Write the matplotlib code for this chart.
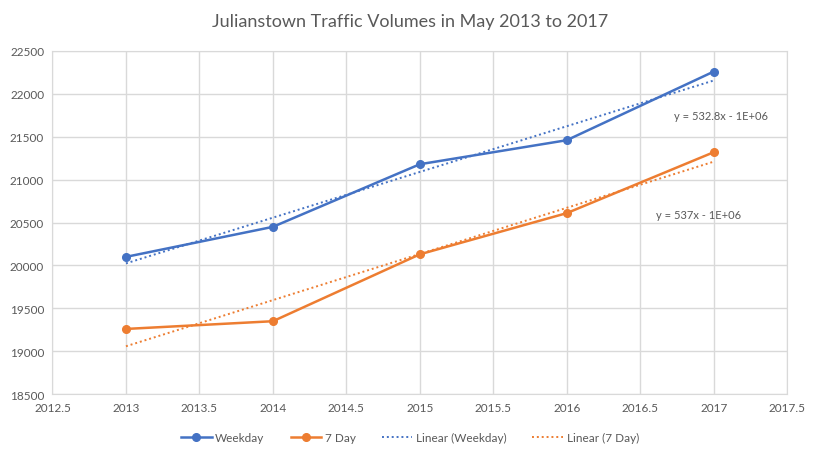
import matplotlib.pyplot as plt
import numpy as np

plt.rcParams['font.family'] = ['Lato', 'DejaVu Sans']

years = [2013, 2014, 2015, 2016, 2017]
weekday = [20100, 20450, 21180, 21460, 22260]
sevenDay = [19260, 19350, 20130, 20610, 21320]
weekdayEq = "y = 532.8x - 1E+06"
sevenDayEq = "y = 537x - 1E+06"

blue = '#4472C4'
orange = '#ED7D31'
gray = '#595959'

fig = plt.figure(figsize=(8.2, 4.6), dpi=100)
ax = fig.add_axes([0.064, 0.141, 0.896, 0.746])

ax.plot(years, weekday, color=blue, lw=1.8, marker='o', ms=5.5, label='Weekday', zorder=4)
ax.plot(years, sevenDay, color=orange, lw=1.8, marker='o', ms=5.5, label='7 Day', zorder=4)

# linie trendu (regresja liniowa)
xs = np.array(years, dtype=float)
p1 = np.polyfit(xs, weekday, 1)
p2 = np.polyfit(xs, sevenDay, 1)
ax.plot(xs, np.polyval(p1, xs), color=blue, lw=1.4, ls=(0, (1, 1.5)), label='Linear (Weekday)', zorder=3)
ax.plot(xs, np.polyval(p2, xs), color=orange, lw=1.4, ls=(0, (1, 1.5)), label='Linear (7 Day)', zorder=3)

ax.text(2017.05, 21750, weekdayEq, fontsize=8, color=gray, ha='center', va='center')
ax.text(2016.9, 20590, sevenDayEq, fontsize=8, color=gray, ha='center', va='center')

ax.set_xlim(2012.5, 2017.5)
ax.set_ylim(18500, 22500)
ax.set_xticks(np.arange(2012.5, 2017.51, 0.5))
ax.set_xticklabels(['2012.5', '2013', '2013.5', '2014', '2014.5', '2015',
                    '2015.5', '2016', '2016.5', '2017', '2017.5'])
ax.set_yticks(np.arange(18500, 22501, 500))
ax.tick_params(length=0, labelsize=8.5, colors=gray, pad=6)
ax.grid(color='#d9d9d9', lw=1)
ax.set_axisbelow(True)
for s in ax.spines.values():
    s.set_color('#d9d9d9')

fig.suptitle('Julianstown Traffic Volumes in May 2013 to 2017', y=0.97,
             fontsize=13, color=gray)

fig.legend(loc='center', bbox_to_anchor=(0.5, 0.047), ncol=4, frameon=False,
           fontsize=8.5, labelcolor=gray, handlelength=2.6, columnspacing=2.2,
           handletextpad=0.3)

fig.savefig('out.png')
